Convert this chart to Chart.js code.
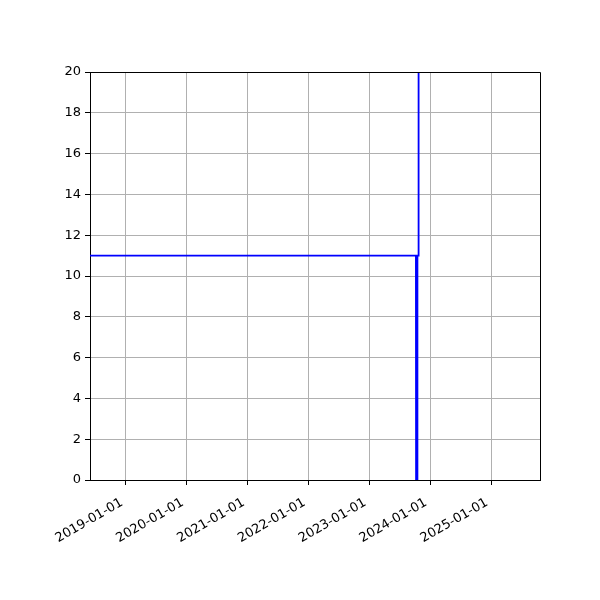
<!DOCTYPE html>
<html>
<head>
<meta charset="utf-8">
<script src="https://cdn.jsdelivr.net/npm/chart.js@4/dist/chart.umd.min.js"></script>
<style>
  html, body { margin: 0; padding: 0; background: #fff; }
  #wrap { width: 600px; height: 600px; }
</style>
</head>
<body>
<div id="wrap"><canvas id="chart"></canvas></div>
<script>
// values
const dates = ['2018-01-01', '2023-10-08', '2023-10-09', '2023-10-16', '2023-10-17', '2023-10-23', '2023-10-24'];
const values = [11, 11, 0, 0, 11, 11, 300];
const xStart = '2018-05-30';
const xEnd = '2025-10-22';
const tickYears = [2019, 2020, 2021, 2022, 2023, 2024, 2025];
const yTicks = [0, 2, 4, 6, 8, 10, 12, 14, 16, 18, 20];

const day = s => Date.parse(s + 'T00:00:00Z');
const pad = n => String(n).padStart(2, '0');
const fmt = ms => {
    const d = new Date(ms);
    return d.getUTCFullYear() + '-' + pad(d.getUTCMonth() + 1) + '-' + pad(d.getUTCDate());
};

// top and right sides of the axes box
const frame = {
    id: 'frame',
    afterDraw(chart) {
        const { ctx, chartArea: a } = chart;
        ctx.save();
        ctx.strokeStyle = '#000';
        ctx.lineWidth = 1;
        ctx.beginPath();
        ctx.moveTo(a.left, a.top + 0.5);
        ctx.lineTo(a.right + 0.5, a.top + 0.5);
        ctx.lineTo(a.right + 0.5, a.bottom);
        ctx.stroke();
        ctx.restore();
    }
};

Chart.defaults.font.family = '"DejaVu Sans", sans-serif';
Chart.defaults.font.size = 13;
Chart.defaults.color = '#000';

new Chart(document.getElementById('chart'), {
    type: 'line',
    data: {
        datasets: [{
            data: dates.map((d, i) => ({ x: day(d), y: values[i] })),
            borderColor: '#0000ff',
            borderWidth: 1.8,
            pointRadius: 0,
            fill: false,
            tension: 0
        }]
    },
    options: {
        responsive: true,
        maintainAspectRatio: false,
        animation: false,
        layout: { padding: { top: 72, right: 60, left: 0, bottom: 0 } },
        plugins: { legend: { display: false }, tooltip: { enabled: false } },
        scales: {
            x: {
                type: 'linear',
                min: day(xStart),
                max: day(xEnd),
                afterBuildTicks: s => { s.ticks = tickYears.map(y => ({ value: Date.UTC(y, 0, 1) })); },
                afterFit: s => { s.height = 120; },
                ticks: {
                    callback: v => fmt(v),
                    minRotation: 30,
                    maxRotation: 30,
                    autoSkip: false,
                    padding: 10,
                    labelOffset: -4
                },
                grid: { color: '#b0b0b0', lineWidth: 1, tickColor: '#000', tickLength: 5 },
                border: { color: '#000', width: 1 }
            },
            y: {
                min: 0,
                max: 20,
                afterBuildTicks: s => { s.ticks = yTicks.map(v => ({ value: v })); },
                afterFit: s => { s.width = 90; },
                ticks: { padding: 4 },
                grid: { color: '#b0b0b0', lineWidth: 1, tickColor: '#000', tickLength: 5 },
                border: { color: '#000', width: 1 }
            }
        }
    },
    plugins: [frame]
});
</script>
</body>
</html>
